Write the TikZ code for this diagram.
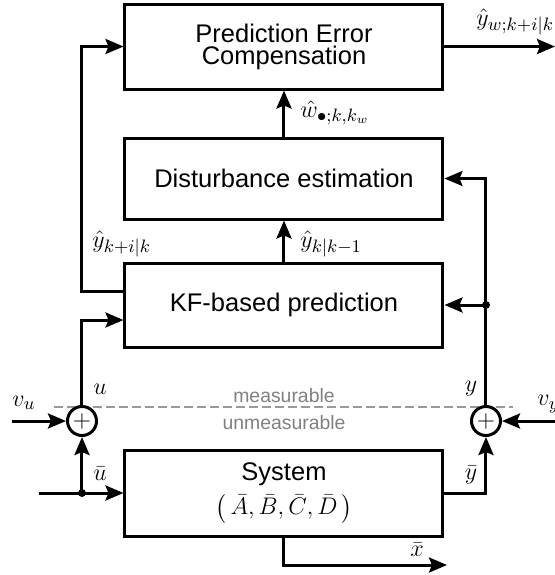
\documentclass[tikz,border=0pt]{standalone}
\usepackage[no-math]{fontspec}
\setmainfont{Liberation Sans}
\usepackage{amsmath}
\usetikzlibrary{arrows.meta,calc}

\begin{document}
\begin{tikzpicture}[x=0.5pt,y=-0.5pt,
  font=\fontsize{12.75}{10.9}\selectfont,
  blk/.style={draw, line width=1.5pt, minimum width=159pt, align=center, inner sep=0pt},
  sumnode/.style={circle, draw, line width=1.5pt, minimum size=14.5pt, inner sep=0pt, fill=white},
  arr/.style={line width=1.5pt, -{Stealth[length=9pt,width=7.5pt,inset=1.5pt]}},
  lbl/.style={inner sep=0pt},
  meas/.style={inner sep=0pt, text=black!50, font=\fontsize{9.7}{11}\selectfont},
  divider/.style={draw=black!40, line width=1pt, dash pattern=on 4.5pt off 2pt}
]
\useasboundingbox (0,0) rectangle (555,575);

% measurable / unmeasurable divider
\draw[divider] (54,407) -- (513,407);
\node[meas] (meas) at (284,396) {measurable};
\node[meas] (unmeas) at (284,422.5) {unmeasurable};

% blocks
\node[blk, minimum height=42.5pt] (pec) at (284,46.5) {Prediction Error\\Compensation};
\node[blk, minimum height=40.5pt] (dist) at (284,178.5) {Disturbance estimation};
\node[blk, minimum height=42pt] (kf) at (284,305) {KF-based prediction};
\node[blk, minimum height=43pt] (sys) at (284,493) {System\\[3pt]$\bigl(\,\bar{A},\bar{B},\bar{C},\bar{D}\,\bigr)$};

% summing junctions
\node[sumnode] (su) at (82,421) {$+$};
\node[sumnode] (sy) at (486,421) {$+$};

% free ends and branch points
\coordinate (vuin) at (12,421);
\coordinate (vyin) at (555,421);
\coordinate (ubarin) at (39,493);
\coordinate (ud) at (82,493);
\coordinate (yd) at (486,305);
\coordinate (out) at (555,46.5);
\coordinate (xbar) at (447,565);

% connectors
\draw[arr] (vuin) -- (su);
\draw[arr] (vyin) -- (sy);
\draw[arr] (ubarin) -- (sys.west);
\draw[arr] (ud) -- (su.south);
\draw[arr] (su.north) |- ($(kf.west)+(0,15)$);
\draw[arr] ($(kf.west)+(0,-13.5)$) -| (su.center |- pec.west) -- (pec.west);
\draw[arr] (pec.east) -- (out);
\draw[arr] (dist.north) -- (pec.south);
\draw[arr] (kf.north) -- (dist.south);
\draw[arr] (sys.east) -| (sy.south);
\draw[arr] (sy.north) |- (dist.east);
\draw[arr] (yd) -- (kf.east);
\draw[arr] (sys.south) |- (xbar);
\fill (ud) circle (2pt);
\fill (yd) circle (2pt);

% signal labels
\node[lbl] (lvu) at (24,403) {$v_u$};
\node[lbl, anchor=west] (lvy) at (537,404) {$v_y$};
\node[lbl] (lu) at (100,389) {$u$};
\node[lbl] (lub) at (100,474) {$\bar{u}$};
\node[lbl] (ly) at (471,389) {$y$};
\node[lbl] (lyb) at (471,475) {$\bar{y}$};
\node[lbl] (lxb) at (417,550) {$\bar{x}$};
\node[lbl, anchor=west] (lyw) at (476,22) {$\hat{y}_{w;k+i|k}$};
\node[lbl, anchor=west] (lw) at (300,113) {$\hat{w}_{\bullet;k,k_w}$};
\node[lbl, anchor=west] (lykk) at (300,244) {$\hat{y}_{k|k-1}$};
\node[lbl, anchor=west] (lyki) at (92,244) {$\hat{y}_{k+i|k}$};
\end{tikzpicture}
\end{document}
